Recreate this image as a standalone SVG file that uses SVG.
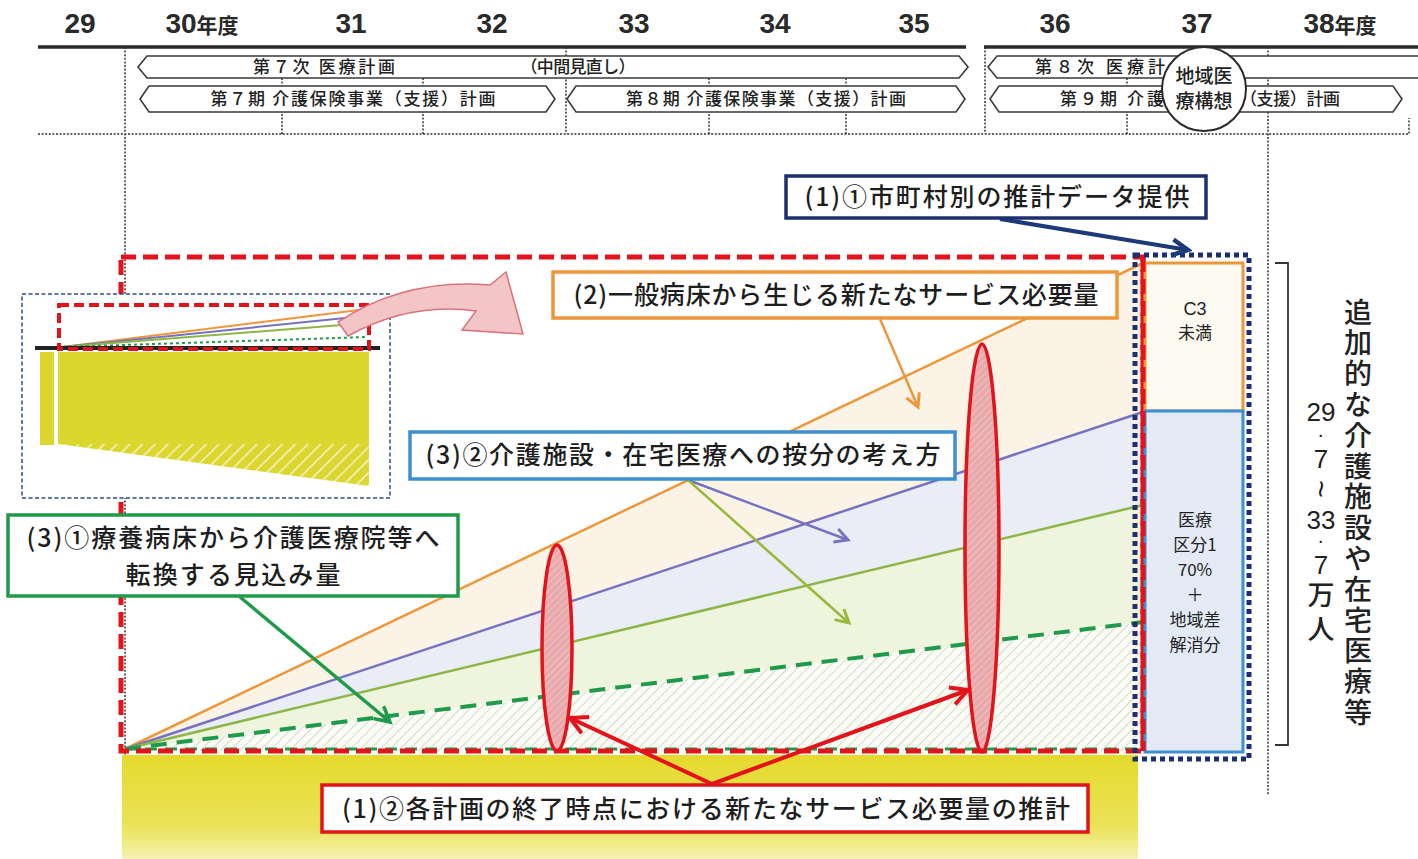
<svg xmlns="http://www.w3.org/2000/svg" width="1418" height="859" viewBox="0 0 1418 859">
<defs>
<style>
.yr{font-family:"Liberation Sans Narrow","Liberation Sans","Noto Sans CJK JP",sans-serif;font-weight:bold;font-size:28px;fill:#2a2a2a;text-anchor:middle}
.yrk{font-family:"Noto Sans CJK JP",sans-serif;font-weight:bold;font-size:21px}
.row{fill:#fff;stroke:#3a3a3a;stroke-width:1.6}
.rt{font-family:"Noto Sans CJK JP",sans-serif;font-size:17px;font-weight:500;fill:#222;text-anchor:middle}
.rs{font-family:"Noto Sans CJK JP",sans-serif;font-size:17px;font-weight:500;fill:#222;text-anchor:start}
.vd{stroke:#333;stroke-width:1.5;stroke-dasharray:2 1.6;fill:none}
.lbl{font-family:"Noto Sans CJK JP",sans-serif;font-size:25px;font-weight:500;fill:#1e1e1e;text-anchor:middle}
.col{font-family:"Noto Sans CJK JP","Liberation Sans",sans-serif;font-size:17px;fill:#222;text-anchor:middle}
.vt{font-family:"Noto Sans CJK JP",sans-serif;font-size:28px;font-weight:500;fill:#222;text-anchor:start}
.num{font-family:"Liberation Sans",sans-serif;font-size:26px;fill:#222;text-anchor:middle}
</style>
<pattern id="hatch" patternUnits="userSpaceOnUse" width="7" height="7" patternTransform="rotate(45)">
<rect width="7" height="7" fill="#fbfcf6"/><line x1="0" y1="0" x2="0" y2="7" stroke="#d3d9c6" stroke-width="2"/>
</pattern>
<pattern id="hatchY" patternUnits="userSpaceOnUse" width="9" height="9" patternTransform="rotate(45)">
<rect width="9" height="9" fill="#dcd72e"/><line x1="0" y1="0" x2="0" y2="9" stroke="#f4f2d0" stroke-width="3"/>
</pattern>
<pattern id="hatchP" patternUnits="userSpaceOnUse" width="5" height="5" patternTransform="rotate(45)">
<rect width="5" height="5" fill="#e7a9ab"/><line x1="0" y1="0" x2="0" y2="5" stroke="#f1cccd" stroke-width="1.5"/>
</pattern>
<linearGradient id="ygrad" x1="0" y1="0" x2="0" y2="1">
<stop offset="0" stop-color="#e4da2c"/><stop offset="0.7" stop-color="#ebe35a"/><stop offset="1" stop-color="#f6f2b4"/>
</linearGradient>
<marker id="mOr" markerUnits="userSpaceOnUse" markerWidth="22" markerHeight="22" viewBox="0 0 22 22" refX="18" refY="11" orient="auto"><path d="M5,4 L18,11 L5,18" fill="none" stroke="#f0963a" stroke-width="3"/></marker>
<marker id="mPu" markerUnits="userSpaceOnUse" markerWidth="22" markerHeight="22" viewBox="0 0 22 22" refX="18" refY="11" orient="auto"><path d="M5,4 L18,11 L5,18" fill="none" stroke="#7772c0" stroke-width="3"/></marker>
<marker id="mOl" markerUnits="userSpaceOnUse" markerWidth="22" markerHeight="22" viewBox="0 0 22 22" refX="18" refY="11" orient="auto"><path d="M5,4 L18,11 L5,18" fill="none" stroke="#9ab83c" stroke-width="3"/></marker>
<marker id="mGr" markerUnits="userSpaceOnUse" markerWidth="24" markerHeight="24" viewBox="0 0 24 24" refX="20" refY="12" orient="auto"><path d="M5,4 L20,12 L5,20" fill="none" stroke="#1f9a4a" stroke-width="3.5"/></marker>
<marker id="mRd" markerUnits="userSpaceOnUse" markerWidth="26" markerHeight="26" viewBox="0 0 26 26" refX="22" refY="13" orient="auto"><path d="M5,4 L22,13 L5,22" fill="none" stroke="#e3131b" stroke-width="4"/></marker>
<marker id="mNv" markerUnits="userSpaceOnUse" markerWidth="26" markerHeight="26" viewBox="0 0 26 26" refX="22" refY="13" orient="auto"><path d="M6,5 L22,13 L6,21" fill="none" stroke="#1d3a78" stroke-width="4.5"/></marker>
</defs>
<rect width="1418" height="859" fill="#ffffff"/>

<g id="timeline">
<text class="yr" x="80" y="33">29</text>
<text class="yr" x="202" y="33">30<tspan class="yrk">年度</tspan></text>
<text class="yr" x="351" y="33">31</text>
<text class="yr" x="492" y="33">32</text>
<text class="yr" x="634" y="33">33</text>
<text class="yr" x="775" y="33">34</text>
<text class="yr" x="914" y="33">35</text>
<text class="yr" x="1055" y="33">36</text>
<text class="yr" x="1197" y="33">37</text>
<text class="yr" x="1340" y="33">38<tspan class="yrk">年度</tspan></text>
<line x1="38" y1="47" x2="966" y2="47" stroke="#2a2a2a" stroke-width="3.5"/>
<line x1="984" y1="47" x2="1418" y2="47" stroke="#2a2a2a" stroke-width="3.5"/>
<path class="vd" d="M125,47 V795 M282,78 V134 M423,78 V134 M566,47 V134 M709,78 V134 M846,78 V134 M985,47 V134 M1127,78 V134 M1268,47 V795 M38,134 H1409 V118"/>
</g>

<g id="plan-7ji">
<polygon class="row" points="138,67 147,56 959,56 968,67 959,78 147,78"/>
<text class="rt" x="324" y="73" textLength="142">第７次 医療計画</text>
<text class="rt" x="578" y="73" textLength="115">（中間見直し）</text>
</g>
<g id="plan-8ji">
<polygon class="row" points="988,67 997,56 1440,56 1440,78 997,78"/>
<text class="rs" x="1035" y="73" textLength="130">第８次 医療計</text>
</g>
<g id="plan-7ki">
<polygon class="row" points="140,99 149,86 546,86 555,99 546,112 149,112"/>
<text class="rt" x="353" y="105" textLength="285">第７期 介護保険事業（支援）計画</text>
</g>
<g id="plan-8ki">
<polygon class="row" points="567,99 576,86 956,86 965,99 956,112 576,112"/>
<text class="rt" x="766" y="105" textLength="280">第８期 介護保険事業（支援）計画</text>
</g>
<g id="plan-9ki">
<polygon class="row" points="990,99 999,86 1393,86 1402,99 1393,112 999,112"/>
<text class="rs" x="1060" y="105" textLength="104">第９期 介護</text>
<text class="rs" x="1240" y="105" textLength="100">（支援）計画</text>
</g>
<g id="chiiki">
<circle cx="1204" cy="89" r="42" fill="#fff" stroke="#2a2a2a" stroke-width="2"/>
<text class="rt" x="1204" y="83" style="font-size:19px">地域医</text>
<text class="rt" x="1204" y="108" style="font-size:19px">療構想</text>
</g>

<g id="chart">
<rect x="122" y="755" width="1016" height="104" fill="url(#ygrad)"/>
<polygon points="125,749 1143,263 1143,412" fill="#fbf4e6"/>
<polygon points="125,749 1143,412 1143,505" fill="#ebedf6"/>
<polygon points="125,749 1143,505 1143,622" fill="#eff4dc"/>
<polygon points="125,749 1143,622 1143,751 125,751" fill="url(#hatch)"/>
<line x1="125" y1="749" x2="1143" y2="263" stroke="#f0963a" stroke-width="2.5"/>
<line x1="125" y1="749" x2="1143" y2="412" stroke="#7772c0" stroke-width="2.5"/>
<line x1="125" y1="749" x2="1143" y2="505" stroke="#8db646" stroke-width="2.5"/>
<line x1="125" y1="749" x2="1143" y2="622" stroke="#1f9a4a" stroke-width="4" stroke-dasharray="16 10"/>
<line x1="125" y1="749" x2="1143" y2="749" stroke="#1f9a4a" stroke-width="3" stroke-dasharray="12 8"/>
</g>

<g id="ellipse-1">
<ellipse cx="557" cy="648" rx="15" ry="103" fill="url(#hatchP)" stroke="#e3131b" stroke-width="3.5"/>
</g>
<g id="ellipse-2">
<ellipse cx="982" cy="548" rx="17" ry="204" fill="url(#hatchP)" stroke="#e3131b" stroke-width="3.5"/>
</g>

<g id="range-box">
<rect x="121" y="257" width="1022" height="494" fill="none" stroke="#e3131b" stroke-width="5" stroke-dasharray="15 7"/>
</g>

<g id="inset">
<rect x="22" y="294" width="368" height="204" fill="#ffffff" stroke="#2d4f8c" stroke-width="1.5" stroke-dasharray="4 2.5"/>
<rect x="40" y="352" width="14" height="93" fill="#dcd72e"/>
<rect x="58" y="352" width="311" height="92" fill="#dcd72e"/>
<polygon points="58,444 369,444 369,486" fill="url(#hatchY)"/>
<line x1="62" y1="347" x2="367" y2="309" stroke="#f0963a" stroke-width="2"/>
<line x1="62" y1="347" x2="355" y2="317" stroke="#7772c0" stroke-width="2"/>
<line x1="62" y1="347" x2="367" y2="323" stroke="#8db646" stroke-width="2"/>
<line x1="62" y1="347" x2="367" y2="337" stroke="#1f9a4a" stroke-width="2" stroke-dasharray="3 3"/>
<line x1="35" y1="348" x2="380" y2="348" stroke="#222" stroke-width="4"/>
<rect x="59" y="305" width="310" height="44" fill="none" stroke="#e3131b" stroke-width="4" stroke-dasharray="10 5"/>
</g>
<g id="zoom-arrow">
<path d="M338,322 Q405,278 490,285 L506,272 L523,334 L462,330 L476,311 Q410,302 348,336 Z" fill="#f3c5c7" stroke="#d9727a" stroke-width="1.5"/>
</g>

<g id="column">
<rect x="1145" y="263" width="98" height="148" fill="#fdfbf1" stroke="#f0963a" stroke-width="3"/>
<rect x="1145" y="411" width="98" height="341" fill="#e3eaf6" stroke="#3d8fd1" stroke-width="3"/>
<line x1="1143" y1="257" x2="1143" y2="751" stroke="#e3131b" stroke-width="5" stroke-dasharray="15 7"/>
<text class="col" x="1195" y="315" style="font-family:'Liberation Sans',sans-serif;font-size:18px">C3</text>
<text class="col" x="1195" y="339">未満</text>
<text class="col" x="1195" y="526">医療</text>
<text class="col" x="1195" y="551">区分1</text>
<text class="col" x="1195" y="576">70%</text>
<text class="col" x="1195" y="601">＋</text>
<text class="col" x="1195" y="626">地域差</text>
<text class="col" x="1195" y="651">解消分</text>
<rect x="1135" y="255" width="114" height="504" fill="none" stroke="#1d2f6f" stroke-width="5" stroke-dasharray="5 4"/>
</g>

<g id="total">
<path d="M1275,263 H1288 V745 H1275" fill="none" stroke="#333" stroke-width="1.8"/>
<text class="vt" x="1358" y="298" writing-mode="vertical-rl" letter-spacing="2.8">追加的な介護施設や在宅医療等</text>
<text class="num" x="1321" y="421">29</text>
<text class="num" x="1321" y="441" style="font-size:14px;font-weight:bold">·</text>
<text class="num" x="1321" y="468">7</text>
<text class="num" x="0" y="0" transform="translate(1321,489) rotate(90)" dominant-baseline="central" style="font-size:30px">~</text>
<text class="num" x="1321" y="529">33</text>
<text class="num" x="1321" y="547" style="font-size:14px;font-weight:bold">·</text>
<text class="num" x="1321" y="574">7</text>
<text class="vt" x="1321" y="581" writing-mode="vertical-rl" letter-spacing="7" style="font-size:27px">万人</text>
</g>

<g id="connectors">
<path d="M1000,219 L1188,250" fill="none" stroke="#1d3a78" stroke-width="4" marker-end="url(#mNv)"/>
<line x1="880" y1="319" x2="918" y2="407" stroke="#f0963a" stroke-width="2.5" marker-end="url(#mOr)"/>
<line x1="688" y1="480" x2="848" y2="540" stroke="#7772c0" stroke-width="2.5" marker-end="url(#mPu)"/>
<line x1="688" y1="480" x2="849" y2="623" stroke="#9ab83c" stroke-width="2.5" marker-end="url(#mOl)"/>
<line x1="240" y1="597" x2="390" y2="722" stroke="#1f9a4a" stroke-width="3.5" marker-end="url(#mGr)"/>
<line x1="712" y1="784" x2="570" y2="718" stroke="#e3131b" stroke-width="4" marker-end="url(#mRd)"/>
<line x1="712" y1="784" x2="968" y2="690" stroke="#e3131b" stroke-width="4" marker-end="url(#mRd)"/>
</g>

<g id="label-1-1">
<rect x="786" y="176" width="420" height="42" fill="#fff" stroke="#1d2f6f" stroke-width="3.5"/>
<text class="lbl" x="997" y="206" textLength="385">(1)①市町村別の推計データ提供</text>
</g>
<g id="label-2">
<rect x="553" y="272" width="564" height="46" fill="#fff" stroke="#f0963a" stroke-width="3.5"/>
<text class="lbl" x="836" y="304" textLength="525">(2)一般病床から生じる新たなサービス必要量</text>
</g>
<g id="label-3-2">
<rect x="410" y="432" width="545" height="47" fill="#fff" stroke="#3d8fd1" stroke-width="3.5"/>
<text class="lbl" x="683" y="464" textLength="515">(3)②介護施設・在宅医療への按分の考え方</text>
</g>
<g id="label-3-1">
<rect x="8" y="515" width="450" height="81" fill="#fff" stroke="#1f9a4a" stroke-width="3.5"/>
<text class="lbl" x="233" y="547" textLength="413">(3)①療養病床から介護医療院等へ</text>
<text class="lbl" x="233" y="584" textLength="215">転換する見込み量</text>
</g>
<g id="label-1-2">
<rect x="322" y="785" width="766" height="47" fill="#fff" stroke="#e3131b" stroke-width="3.5"/>
<text class="lbl" x="706" y="818" textLength="728">(1)②各計画の終了時点における新たなサービス必要量の推計</text>
</g>
</svg>
